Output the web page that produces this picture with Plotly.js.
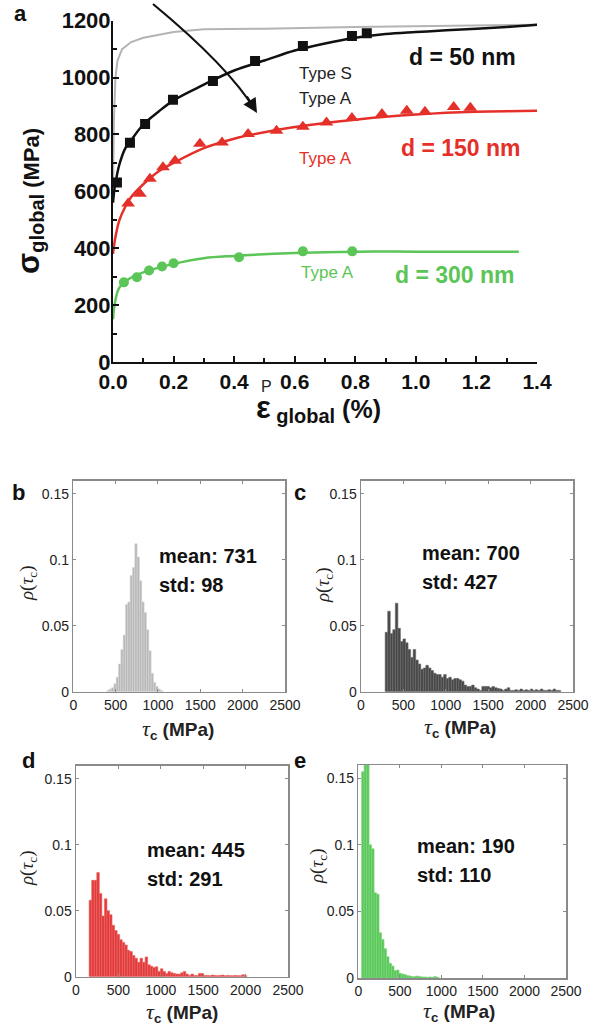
<!DOCTYPE html>
<html><head><meta charset="utf-8">
<script src="https://cdn.plot.ly/plotly-3.0.1.min.js"></script>
<style>html,body{margin:0;padding:0;background:#fff}</style>
</head><body><div id="chart" style="width:594px;height:1028px"></div>
<script>
// ---------- Panel a data ----------
const greyEps   = [0, 0.003, 0.008, 0.015, 0.03, 0.06, 0.1, 0.2, 0.3, 0.5, 0.8, 1.0, 1.2, 1.4];
const greySig   = [600, 850, 1000, 1060, 1100, 1125, 1140, 1160, 1170, 1172, 1178, 1180, 1182, 1186];

const blackEps  = [0, 0.005, 0.01, 0.02, 0.04, 0.06, 0.1, 0.15, 0.2, 0.3, 0.4, 0.5, 0.6, 0.7, 0.8, 0.9, 1.0, 1.1, 1.2, 1.3, 1.4];
const blackSig  = [560, 610, 640, 690, 750, 780, 835, 880, 920, 975, 1025, 1060, 1095, 1120, 1140, 1153, 1160, 1166, 1172, 1178, 1186];
const blackMkEps = [0.013, 0.056, 0.106, 0.198, 0.33, 0.469, 0.627, 0.789, 0.838];
const blackMkSig = [631, 771, 837, 922, 988, 1058, 1111, 1146, 1156];

const redEps    = [0, 0.005, 0.01, 0.02, 0.04, 0.06, 0.1, 0.15, 0.2, 0.3, 0.4, 0.5, 0.6, 0.7, 0.8, 0.9, 1.0, 1.1, 1.2, 1.3, 1.4];
const redSig    = [380, 420, 450, 495, 545, 580, 625, 670, 700, 752, 785, 808, 826, 840, 852, 862, 870, 876, 880, 882, 883];
const redMkEps  = [0.05, 0.089, 0.122, 0.165, 0.205, 0.287, 0.36, 0.446, 0.54, 0.627, 0.705, 0.789, 0.888, 0.97, 1.03, 1.125, 1.18];
const redMkSig  = [557, 592, 644, 685, 708, 767, 772, 802, 813, 827, 842, 858, 872, 883, 880, 897, 894];

const greenEps  = [0, 0.005, 0.02, 0.05, 0.1, 0.2, 0.3, 0.4, 0.6, 0.8, 1.0, 1.2, 1.34];
const greenSig  = [150, 200, 260, 290, 315, 345, 365, 373, 383, 388, 388, 388, 388];
const greenMkEps = [0.036, 0.079, 0.119, 0.162, 0.2, 0.416, 0.627, 0.79];
const greenMkSig = [280, 298, 322, 336, 347, 368, 389, 389];

const aXTicks = [0, 0.2, 0.4, 0.6, 0.8, 1.0, 1.2, 1.4];
const aYTicks = [0, 200, 400, 600, 800, 1000, 1200];

// ---------- Histogram data (probability per bin) ----------
const bStart = 396.25, bWidth = 27.5;
const bVals = [0.001,0.002,0.003,0.006,0.011,0.021,0.032,0.043,0.066,0.068,0.088,0.094,
               0.112,0.102,0.084,0.068,0.060,0.047,0.031,0.014,0.007,0.004,0.002,0.001];

const cStart = 285, cWidth = 30;
const cVals = [0.045,0.061,0.044,0.047,0.067,0.048,0.038,0.040,0.037,0.032,
               0.026,0.032,0.024,0.021,0.017,0.018,0.020,0.018,0.016,0.014,
               0.013,0.013,0.011,0.013,0.010,0.011,0.009,0.010,0.010,0.009,
               0.008,0.005,0.004,0.004,0.005,0.003,0.002,0.001,0.004,0.004,
               0.004,0.003,0.004,0.003,0.0025,0.002,0.001,0.002,0.003,0.001,
               0.001,0.0015,0.001,0.002,0.001,0.0015,0.001,0.002,0.001,0.0015,
               0.001,0.002,0.001,0.001,0.0015,0.001,0.002,0.001,0.001];

const dStart = 155, dWidth = 30;
const dVals = [0.058,0.073,0.073,0.079,0.063,0.046,0.059,0.050,0.047,0.039,
               0.035,0.032,0.028,0.026,0.024,0.020,0.019,0.016,0.014,0.011,
               0.014,0.011,0.015,0.009,0.008,0.007,0.0075,0.004,0.006,0.004,
               0.0025,0.004,0.003,0.0025,0.002,0.002,0.003,0.004,0.002,0.001,
               0.002,0.001,0.001,0.0025,0.0025,0.001,0.001,0.0008,0.0012,0.001,
               0.0008,0.001,0.0012,0.0008,0.001,0.0008,0.0008,0.001,0.0008,0.0008,
               0.0015,0.0008];

const eStart = 40, eWidth = 30;
const eVals = [0.155,0.165,0.165,0.100,0.097,0.064,0.063,0.034,0.029,0.022,
               0.016,0.011,0.009,0.0055,0.006,0.0035,0.003,0.0025,0.0018,0.0015,
               0.001,0.0012,0.0015,0.001,0.0008,0.0008,0.0005,0.0008,0.0005,0.0012,0.0005];

const histXTicks = [0, 500, 1000, 1500, 2000, 2500];
const histYTicks = [0, 0.05, 0.1, 0.15];
const histYText  = ['0', '0.05', '0.1', '0.15'];

const stats = [
  {panel:'b', mean:731, std:98},
  {panel:'c', mean:700, std:427},
  {panel:'d', mean:445, std:291},
  {panel:'e', mean:190, std:110}
];

// ---------- helpers ----------
const W = 594, H = 1028;
const PX = x => x / W;
const PY = y => 1 - y / H;
const centers = (start, w, n) => Array.from({length:n}, (_, i) => start + w * (i + 0.5));

const RED = '#e5302a', GREEN = '#5bc557', GREY = '#b4b4b4';
const FONT = 'Liberation Sans, Arial, Helvetica, sans-serif';

const traces = [
  {x: greyEps, y: greySig, mode:'lines', line:{color:GREY, width:2}, xaxis:'x', yaxis:'y'},
  {x: blackEps, y: blackSig, mode:'lines', line:{color:'#111', width:2.5, shape:'spline'}, xaxis:'x', yaxis:'y'},
  {x: blackMkEps, y: blackMkSig, mode:'markers', marker:{symbol:'square', size:10, color:'#111'}, xaxis:'x', yaxis:'y'},
  {x: redEps, y: redSig, mode:'lines', line:{color:RED, width:2.5, shape:'spline'}, xaxis:'x', yaxis:'y'},
  {x: redMkEps, y: redMkSig, mode:'markers', marker:{symbol:'triangle-up', size:12, color:RED}, xaxis:'x', yaxis:'y'},
  {x: greenEps, y: greenSig, mode:'lines', line:{color:GREEN, width:2.5, shape:'spline'}, xaxis:'x', yaxis:'y'},
  {x: greenMkEps, y: greenMkSig, mode:'markers', marker:{symbol:'circle', size:10, color:GREEN}, xaxis:'x', yaxis:'y'},
  {type:'bar', x: centers(bStart, bWidth, bVals.length), y: bVals, width: bWidth,
   marker:{color:'#b7b7b7', line:{color:'#d6d6d6', width:0.6}}, xaxis:'x2', yaxis:'y2'},
  {type:'bar', x: centers(cStart, cWidth, cVals.length), y: cVals, width: cWidth,
   marker:{color:'#474747', line:{color:'#6b6b6b', width:0.6}}, xaxis:'x3', yaxis:'y3'},
  {type:'bar', x: centers(dStart, dWidth, dVals.length), y: dVals, width: dWidth,
   marker:{color:'#e13a3a', line:{color:'#ec6565', width:0.6}}, xaxis:'x4', yaxis:'y4'},
  {type:'bar', x: centers(eStart, eWidth, eVals.length), y: eVals, width: eWidth,
   marker:{color:'#5cc85c', line:{color:'#7ad67a', width:0.6}}, xaxis:'x5', yaxis:'y5'}
];

function histAxes(xd, yd, anchorX, anchorY) {
  const common = {showline:true, mirror:'ticks', linecolor:'#8a8a8a', linewidth:1.5,
    ticks:'inside', ticklen:3, tickcolor:'#8a8a8a', tickwidth:1, showgrid:false, zeroline:false,
    tickfont:{family:FONT, size:14, color:'#222'}, fixedrange:true};
  return [
    Object.assign({}, common, {domain:xd, range:[0,2500], tickvals:histXTicks, anchor:anchorY}),
    Object.assign({}, common, {domain:yd, range:[0,0.16], tickvals:histYTicks, ticktext:histYText, anchor:anchorX})
  ];
}

const [x2, y2] = histAxes([PX(73.3), PX(285)], [PY(691.7), PY(480.5)], 'x2', 'y2');
const [x3, y3] = histAxes([PX(361), PX(573)], [PY(691.7), PY(480.5)], 'x3', 'y3');
const [x4, y4] = histAxes([PX(76), PX(288)], [PY(976.7), PY(765.5)], 'x4', 'y4');
const [x5, y5] = histAxes([PX(358.3), PX(566)], [PY(978), PY(765)], 'x5', 'y5');

const annotations = [];
const txt = (x, y, text, size, color, opts={}) => annotations.push(Object.assign({
  xref:'paper', yref:'paper', x:PX(x), y:PY(y), text, showarrow:false,
  font:{family:FONT, size, color}, xanchor:'center', yanchor:'middle'}, opts));

// panel letters
const letterFont = {family:FONT,size:22,color:'#111',weight:'bold'};
txt(20, 14, 'a', 22, '#111', {font:letterFont});
txt(18, 492, 'b', 22, '#111', {font:letterFont});
txt(300, 492, 'c', 22, '#111', {font:letterFont});
txt(28, 760, 'd', 22, '#111', {font:letterFont});
txt(300, 760, 'e', 22, '#111', {font:letterFont});

// panel a labels
txt(462, 57, 'd = 50 nm', 23, '#111', {font:{family:FONT,size:23,color:'#111',weight:'bold'}});
txt(325, 74, 'Type S', 17, '#222');
txt(325, 98, 'Type A', 17, '#222');
txt(461, 148, 'd = 150 nm', 23, RED, {font:{family:FONT,size:23,color:RED,weight:'bold'}});
txt(325, 158, 'Type A', 17, RED);
txt(327, 273, 'Type A', 17, GREEN);
txt(455, 275, 'd = 300 nm', 23, GREEN, {font:{family:FONT,size:23,color:GREEN,weight:'bold'}});

// panel a axis titles
txt(30, 201, '<span style="font-size:31px">σ</span><sub><span style="font-size:20px">global</span></sub> (MPa)', 22, '#111',
    {textangle:-90, font:{family:FONT,size:22,color:'#111',weight:'bold'}});
txt(318, 409, '<span style="font-size:31px">ε</span><sub><span style="font-size:20px"> global</span></sub> (%)', 25, '#111',
    {font:{family:FONT,size:25,color:'#111',weight:'bold'}});
txt(266, 386, 'P', 16, '#222');

// histogram texts
const histPos = {
  b:{yl:[28,583], xl:[178,729], st:[157,556]},
  c:{yl:[324,585], xl:[460,727], st:[420,553]},
  d:{yl:[28,868], xl:[182,1012], st:[145,850]},
  e:{yl:[318,866], xl:[459,1011], st:[415,846]}
};
stats.forEach(s => {
  const p = histPos[s.panel];
  txt(p.yl[0], p.yl[1], '<i>ρ</i>(<i>τ</i><sub>c</sub>)', 19, '#222',
      {textangle:-90, font:{family:'Liberation Serif, DejaVu Serif, serif', size:19, color:'#222'}});
  txt(p.xl[0], p.xl[1], '<span style="font-family:Liberation Serif;font-weight:normal;font-style:italic;font-size:22px">τ</span><sub>c</sub> (MPa)', 19, '#222',
      {font:{family:FONT,size:19,color:'#222',weight:'bold'}});
  txt(p.st[0], p.st[1], 'mean: ' + s.mean, 20, '#111',
      {xanchor:'left', font:{family:FONT,size:20,color:'#111',weight:'bold'}});
  txt(p.st[0], p.st[1] + 29, 'std: ' + s.std, 20, '#111',
      {xanchor:'left', font:{family:FONT,size:20,color:'#111',weight:'bold'}});
});

// arrow (curved) in panel a
annotations.push({xref:'paper', yref:'paper', x:PX(257), y:PY(113), ax:-11, ay:-18,
  showarrow:true, arrowhead:2, arrowsize:1.3, arrowwidth:2.2, arrowcolor:'#111', text:''});

const shapes = [{type:'path', xref:'paper', yref:'paper',
  path:`M ${PX(153)},${PY(4)} Q ${PX(229)},${PY(67)} ${PX(255)},${PY(110)}`,
  line:{color:'#111', width:2.2}}];

const layout = {
  width:W, height:H, margin:{l:0,r:0,t:0,b:0}, showlegend:false,
  paper_bgcolor:'#fff', plot_bgcolor:'rgba(0,0,0,0)',
  font:{family:FONT},
  xaxis:{domain:[PX(113), PX(537)], range:[0,1.4], anchor:'y', tickvals:aXTicks, tickformat:'.1f',
    showline:true, linecolor:'#111', linewidth:2, ticks:'inside', ticklen:6, tickwidth:2, tickcolor:'#111',
    minor:{ticks:'inside', dtick:0.1, ticklen:4, tickwidth:2, tickcolor:'#111'},
    showgrid:false, zeroline:false, tickfont:{family:FONT, size:21, color:'#111', weight:'bold'}},
  yaxis:{domain:[PY(362), PY(20.7)], range:[0,1200], anchor:'x', tickvals:aYTicks,
    showline:true, linecolor:'#111', linewidth:2, ticks:'inside', ticklen:6, tickwidth:2, tickcolor:'#111',
    minor:{ticks:'inside', dtick:100, ticklen:4, tickwidth:2, tickcolor:'#111'}, ticklabelstandoff:-4,
    showgrid:false, zeroline:false, tickfont:{family:FONT, size:22, color:'#111', weight:'bold'}},
  xaxis2:x2, yaxis2:y2, xaxis3:x3, yaxis3:y3, xaxis4:x4, yaxis4:y4, xaxis5:x5, yaxis5:y5,
  annotations, shapes, bargap:0
};

Plotly.newPlot('chart', traces, layout, {staticPlot:true, displayModeBar:false});
</script>
</body></html>
